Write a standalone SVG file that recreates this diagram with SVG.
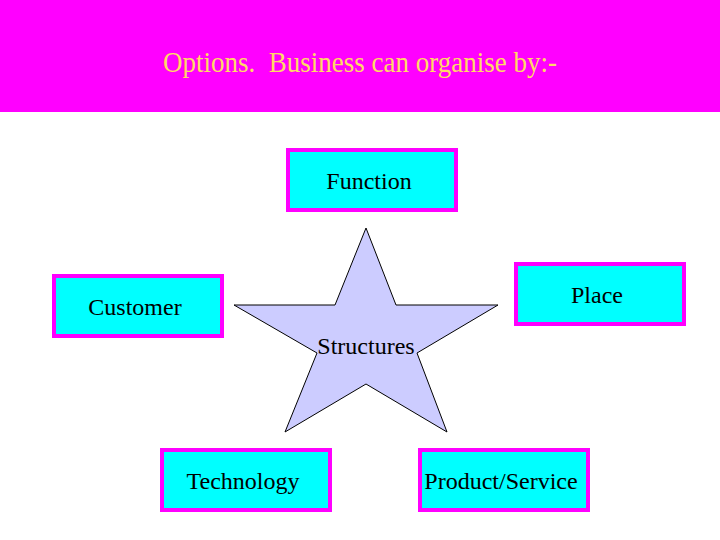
<svg xmlns="http://www.w3.org/2000/svg" width="720" height="540" viewBox="0 0 720 540">
<style>
.box{fill:#00FFFF;stroke:#FF00FF;stroke-width:4}
.lbl{font-family:"Liberation Serif","Times New Roman",serif;font-size:24px;fill:#000;text-anchor:middle}
.title{font-family:"Liberation Serif","Times New Roman",serif;font-size:30px;fill:#FFD966;text-anchor:middle;white-space:pre}
</style>
<rect x="0" y="0" width="720" height="540" fill="#FFFFFF"/>
<rect x="0" y="0" width="720" height="112" fill="#FF00FF"/>
<text class="title" x="360" y="72" textLength="394" lengthAdjust="spacingAndGlyphs" xml:space="preserve">Options.  Business can organise by:-</text>
<g id="connectors"></g>
<g id="structures">
<polygon points="366,228 396,305 498,305 417,353 447,432 366,384 285,432 317,353 234,305 335,305" fill="#CCCCFF" stroke="#000" stroke-width="1"/>
<text class="lbl" x="366" y="354">Structures</text>
</g>
<g id="function">
<rect class="box" x="288" y="150" width="168" height="60"/>
<text class="lbl" x="369" y="189">Function</text>
</g>
<g id="customer">
<rect class="box" x="54" y="276" width="168" height="60"/>
<text class="lbl" x="135" y="315">Customer</text>
</g>
<g id="place">
<rect class="box" x="516" y="264" width="168" height="60"/>
<text class="lbl" x="597" y="303">Place</text>
</g>
<g id="technology">
<rect class="box" x="162" y="450" width="168" height="60"/>
<text class="lbl" x="243" y="489">Technology</text>
</g>
<g id="product">
<rect class="box" x="420" y="450" width="168" height="60"/>
<text class="lbl" x="501" y="489">Product/Service</text>
</g>
</svg>
